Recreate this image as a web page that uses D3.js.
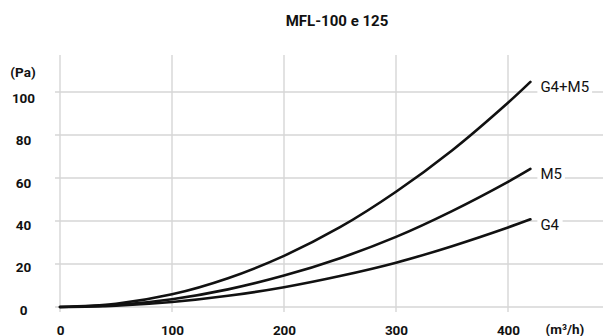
<!DOCTYPE html>
<html>
<head>
<meta charset="utf-8">
<script src="https://cdn.jsdelivr.net/npm/d3@7"></script>
<style>
  html, body { margin: 0; padding: 0; background: #fff; }
  svg { display: block; }
  text { font-family: Roboto, "Noto Sans", sans-serif; }
</style>
</head>
<body>
<svg id="chart" width="603" height="336"></svg>
<script>
const title = "MFL-100 e 125";
const yUnit = "(Pa)";
const xUnit = "(m³/h)";
const xTicks = [0, 100, 200, 300, 400];
const yTicks = [0, 20, 40, 60, 80, 100];
const flow = [0, 50, 100, 150, 200, 250, 300, 350, 400, 420];
const seriesNames = ["G4+M5", "M5", "G4"];
const g4m5 = [0, 1.5, 5.9, 13.4, 23.8, 37.1, 53.6, 72.8, 95, 104.7];
const m5 = [0, 0.9, 3.6, 8.2, 14.6, 22.7, 32.6, 44.6, 58.2, 64.2];
const g4 = [0, 0.6, 2.3, 5.2, 9.2, 14.4, 20.6, 28.3, 37.0, 40.8];
const seriesValues = [g4m5, m5, g4];

const svg = d3.select("#chart");
const x = d3.scaleLinear().domain([0, 400]).range([60, 508]);
const y = d3.scaleLinear().domain([0, 100]).range([307, 92]);
const yLabel = d3.scaleLinear().domain([0, 100]).range([309.5, 98]);

const grid = svg.append("g").attr("stroke", "#d6d6d6").attr("stroke-width", 1.4);
grid.selectAll("line.v").data(xTicks).join("line")
  .attr("x1", d => x(d)).attr("x2", d => x(d))
  .attr("y1", 55).attr("y2", 312);
grid.selectAll("line.h").data(yTicks).join("line")
  .attr("x1", 55).attr("x2", 603)
  .attr("y1", d => y(d)).attr("y2", d => y(d));

svg.append("g").selectAll("text").data(yTicks).join("text")
  .attr("x", 23.5).attr("y", d => yLabel(d))
  .attr("text-anchor", "middle").attr("dominant-baseline", "central")
  .attr("font-size", 13.5).attr("font-weight", "bold").attr("fill", "#111")
  .text(d => d);

svg.append("g").selectAll("text").data(xTicks).join("text")
  .attr("x", d => x(d) + 0.5).attr("y", 329.5)
  .attr("text-anchor", "middle").attr("dominant-baseline", "central")
  .attr("font-size", 13.5).attr("font-weight", "bold").attr("fill", "#111")
  .text(d => d);

svg.append("text").attr("x", 23).attr("y", 72)
  .attr("text-anchor", "middle").attr("dominant-baseline", "central")
  .attr("font-size", 13.5).attr("font-weight", "bold").attr("fill", "#111")
  .text(yUnit);
svg.append("text").attr("x", 565).attr("y", 329)
  .attr("text-anchor", "middle").attr("dominant-baseline", "central")
  .attr("font-size", 13.5).attr("font-weight", "bold").attr("fill", "#111")
  .text(xUnit);

svg.append("text").attr("x", 337).attr("y", 20.5)
  .attr("text-anchor", "middle").attr("dominant-baseline", "central")
  .attr("font-size", 15).attr("font-weight", "bold").attr("fill", "#111")
  .text(title);

const line = d3.line().x((d, i) => x(flow[i])).y(d => y(d)).curve(d3.curveCatmullRom.alpha(0.5));
svg.append("g").selectAll("path").data(seriesValues).join("path")
  .attr("d", d => line(d))
  .attr("fill", "none").attr("stroke", "#111").attr("stroke-width", 2.6)
  .attr("stroke-linecap", "round");

const lab = svg.append("g");
seriesValues.forEach((vals, i) => {
  const last = vals.length - 1;
  const px = x(flow[last]) + 10;
  const py = y(vals[last]) + 5.5;
  const t = lab.append("text").attr("x", px).attr("y", py)
    .attr("dominant-baseline", "central")
    .attr("font-size", 15).attr("fill", "#111")
    .text(seriesNames[i]);
  const bb = t.node().getBBox();
  lab.insert("rect", "text")
    .attr("x", bb.x - 3).attr("y", bb.y).attr("width", bb.width + 6).attr("height", bb.height)
    .attr("fill", "#fff");
});
</script>
</body>
</html>
